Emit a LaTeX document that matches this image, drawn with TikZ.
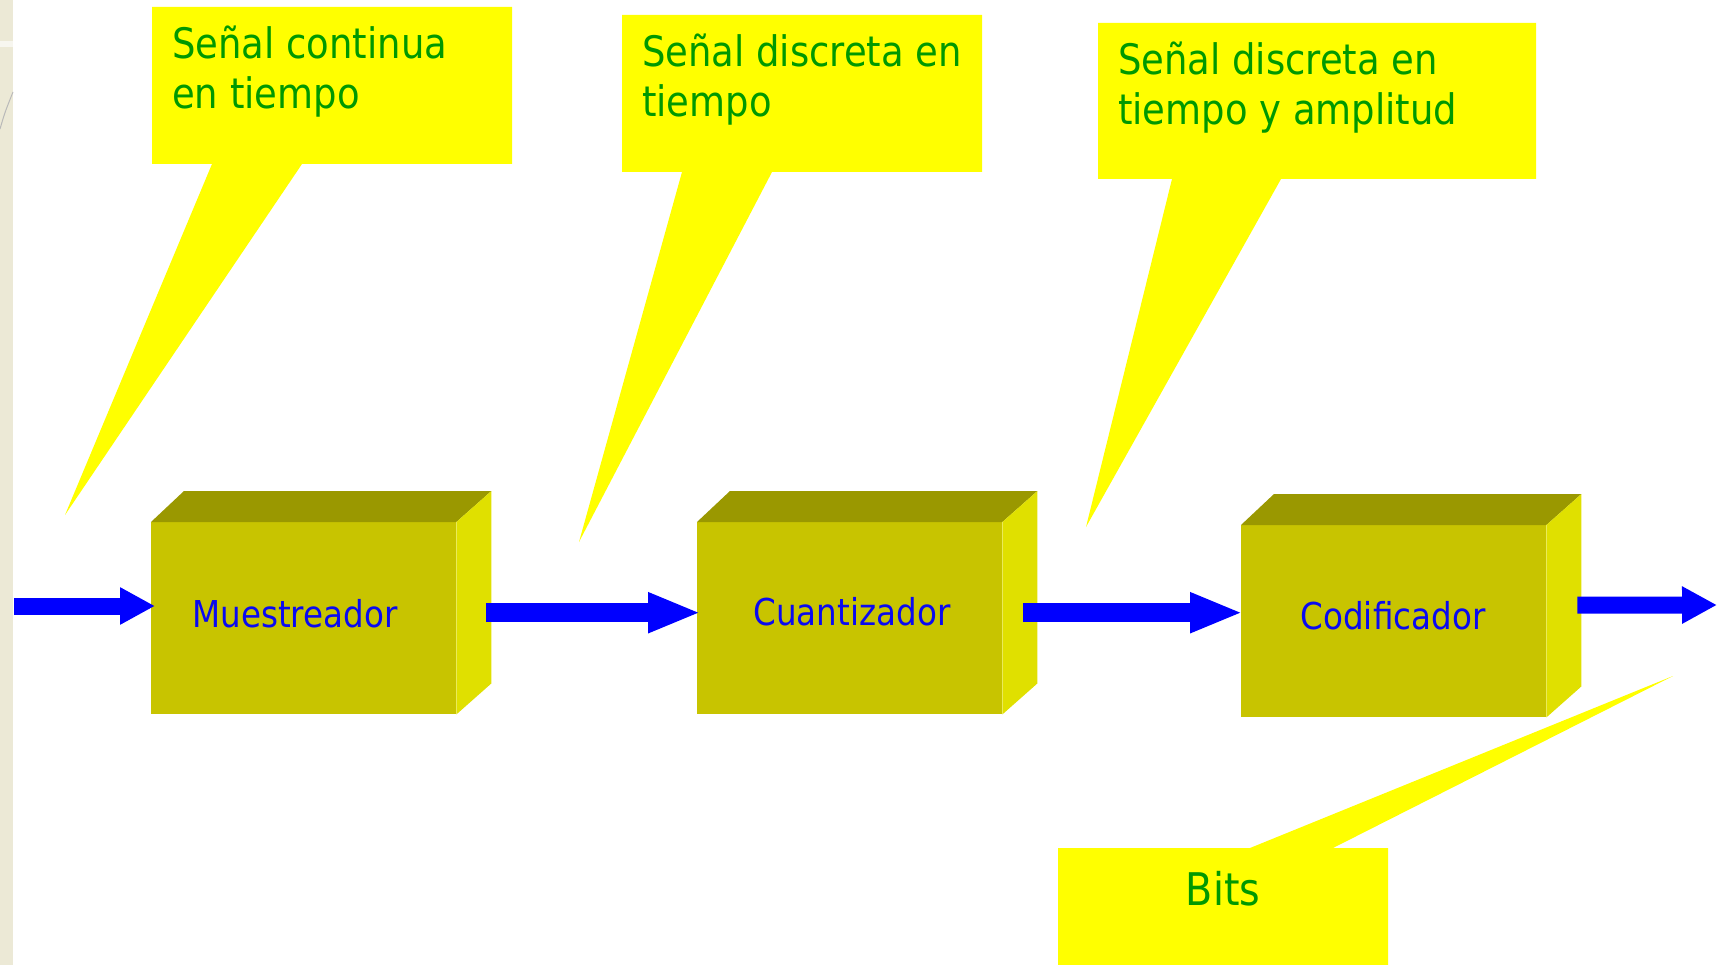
\documentclass[tikz,border=0pt]{standalone}
\usepackage{fontspec}
\newfontfamily\tah[FakeStretch=0.88]{DejaVu Sans}
\usetikzlibrary{arrows.meta,calc}
\definecolor{callyellow}{RGB}{255,255,0}
\definecolor{txtgreen}{RGB}{0,153,0}
\definecolor{txtblue}{RGB}{10,10,240}
\definecolor{boxfront}{RGB}{200,196,0}
\definecolor{boxtop}{RGB}{154,152,0}
\definecolor{boxside}{RGB}{224,224,0}
\definecolor{arrowblue}{RGB}{0,0,255}
\definecolor{stripbeige}{RGB}{236,233,214}
\begin{document}
\begin{tikzpicture}[x=1pt,y=-1pt,
  calltext/.style={font=\tah\fontsize{42}{50}\selectfont, text=txtgreen, anchor=north west, inner sep=0pt, align=left},
  bitstext/.style={font=\tah\fontsize{45}{54}\selectfont, text=txtgreen, anchor=base, inner sep=0pt},
  boxtext/.style={font=\tah\fontsize{37}{44}\selectfont, text=txtblue, anchor=base, inner sep=0pt},
  frontface/.style={fill=boxfront, draw=none, inner sep=0pt, minimum width=305pt, minimum height=192pt, anchor=north west},
  callout/.style={fill=callyellow, draw=none},
  bigarrow/.style={draw=arrowblue, line width=19pt, -{Triangle[length=53pt,width=37pt]}},
  smallarrow/.style={draw=arrowblue, line width=17pt, -{Triangle[length=35pt,width=35pt]}}
]
\useasboundingbox (0,0) rectangle (1724,965);
\fill[white] (0,0) rectangle (1724,965);
% left decorative strip
\fill[stripbeige] (0,0) rectangle (13,965);
\fill[white!60!stripbeige] (0,41) rectangle (13,47);
\draw[gray!55, line width=1pt] (0,129) .. controls (5,112) .. (13,92);

% callouts
\fill[callout] (152,7) -- (512,7) -- (512,164) -- (302,164) -- (65,515) -- (212,164) -- (152,164) -- cycle;
\fill[callout] (622,15) -- (982,15) -- (982,172) -- (772,172) -- (579,542) -- (682,172) -- (622,172) -- cycle;
\fill[callout] (1098,23) -- (1536,23) -- (1536,179) -- (1281,179) -- (1086,527) -- (1172,179) -- (1098,179) -- cycle;
\fill[callout] (1058,848) -- (1250,848) -- (1673,676) -- (1333,848) -- (1388,848) -- (1388,966) -- (1058,966) -- cycle;

\node[calltext] (t1) at (172,26) {Señal continua\\en tiempo};
\node[calltext] (t2) at (642,34) {Señal discreta en\\tiempo};
\node[calltext] (t3) at (1118,42) {Señal discreta en\\tiempo y amplitud};
\node[bitstext] (t4) at (1223,905) {Bits};

% boxes
\foreach \nm/\x/\y in {m/151/522, c/697/522, k/1241/525}{
  \node[frontface] (\nm) at (\x,\y) {};
  \fill[boxtop] (\nm.north west) -- ++(33,-31) -- ($(\nm.north east)+(35,-31)$) -- (\nm.north east) -- cycle;
  \fill[boxside] (\nm.north east) -- ++(35,-31) -- ($(\nm.south east)+(35,-31)$) -- (\nm.south east) -- cycle;
}
\node[boxtext] (lm) at (295,627) {Muestreador};
\node[boxtext] (lc) at (852,625) {Cuantizador};
\node[boxtext] (lk) at (1393,629) {Codificador};

% arrows
\coordinate (in) at (14,606);
\coordinate (out) at (1717,605);
\draw[smallarrow, shorten >=-4pt] (in) -- (m.west |- in);
\draw[bigarrow, shorten >=-4pt] ($(m.east)+(30,-5.5)$) -- ($(c.west)+(0,-5.5)$);
\draw[bigarrow, shorten >=-2pt] ($(c.east)+(21,-5.5)$) -- ($(k.west)+(0,-8.5)$);
\draw[smallarrow] ($(k.east)+(31,-16)$) -- (out);
\end{tikzpicture}
\end{document}
